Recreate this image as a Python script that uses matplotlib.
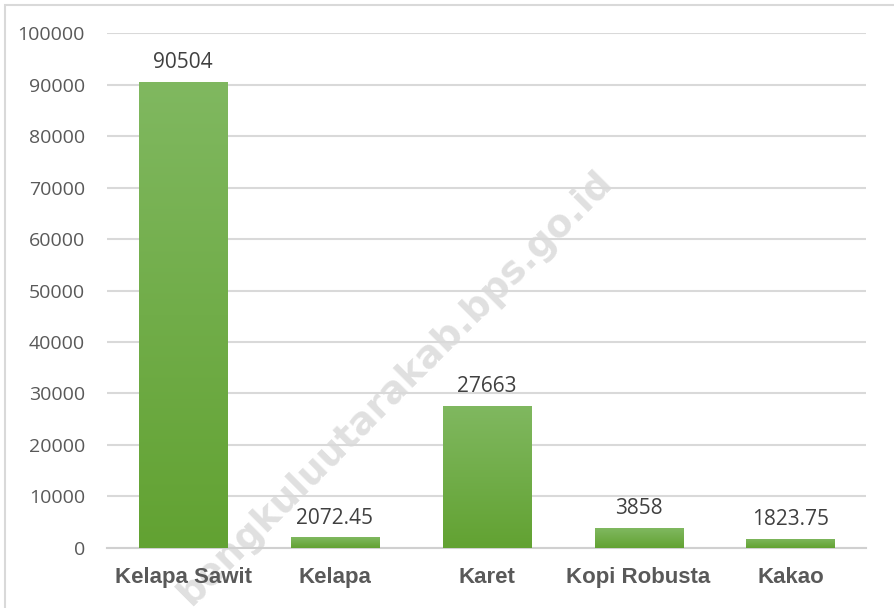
"""
Bar chart of plantation crop production with value labels.
"""

import numpy as np
import matplotlib.pyplot as plt
from matplotlib.colors import LinearSegmentedColormap
from matplotlib.patches import Rectangle

categories = ['Kelapa Sawit', 'Kelapa', 'Karet', 'Kopi Robusta', 'Kakao']
values = [90504, 2072.45, 27663, 3858, 1823.75]
value_labels = ['90504', '2072.45', '27663', '3858', '1823.75']
yticks = [0, 10000, 20000, 30000, 40000, 50000, 60000, 70000, 80000, 90000, 100000]

fig = plt.figure(figsize=(8.94, 6.08), dpi=100)
ax = fig.add_axes([0.12, 0.0987, 0.849, 0.847])
ax.patch.set_alpha(0)

# outer chart frame (only top and left edges visible)
fig.patches.append(Rectangle((5 / 894, -0.1), 1.2, (608 - 5) / 608 + 0.1,
                             transform=fig.transFigure, fill=False,
                             edgecolor='#d9d9d9', linewidth=1.5))

# watermark, drawn behind the axes content
fig.text(396 / 894, 1 - 388 / 608, 'bengkuluutarakab.bps.go.id', rotation=45,
         ha='center', va='center', fontsize=27, fontweight='bold',
         color='#e0e0e0', family='DejaVu Sans', zorder=-1)

x = np.arange(len(categories))
width = 0.58
bars = ax.bar(x, values, width=width, color='#70ad47', zorder=2)

# vertical gradient inside each bar, lighter at top
cmap = LinearSegmentedColormap.from_list('g', ['#62a232', '#80b860'])
grad = np.linspace(0, 1, 256).reshape(-1, 1)
for b in bars:
    x0, y0 = b.get_x(), b.get_y()
    w, h = b.get_width(), b.get_height()
    im = ax.imshow(grad, cmap=cmap, origin='lower', aspect='auto',
                   extent=(x0, x0 + w, y0, y0 + h), zorder=3)
    im.set_clip_path(b)

for xi, v, lab in zip(x, values, value_labels):
    ax.text(xi, v + 1700, lab, ha='center', va='bottom', fontsize=15,
            color='#404040', family='Open Sans', zorder=4)

ax.set_xlim(-0.5, len(categories) - 0.5)
ax.set_ylim(0, 100000)
ax.set_yticks(yticks)
ax.set_yticklabels([str(t) for t in yticks], fontsize=14, color='#595959',
                   family='Open Sans')
ax.set_xticks(x)
ax.set_xticklabels(categories, fontsize=16, color='#595959', fontweight='bold',
                   family='Liberation Sans')
ax.tick_params(axis='both', length=0)
ax.tick_params(axis='x', pad=14)
ax.tick_params(axis='y', pad=16)

ax.grid(axis='y', color='#d9d9d9', linewidth=1.5, zorder=0)
ax.set_axisbelow(True)
for s in ['top', 'right', 'left']:
    ax.spines[s].set_visible(False)
ax.spines['bottom'].set_color('#d0d0d0')
ax.spines['bottom'].set_linewidth(1.5)

plt.savefig('out.png', dpi=100)
